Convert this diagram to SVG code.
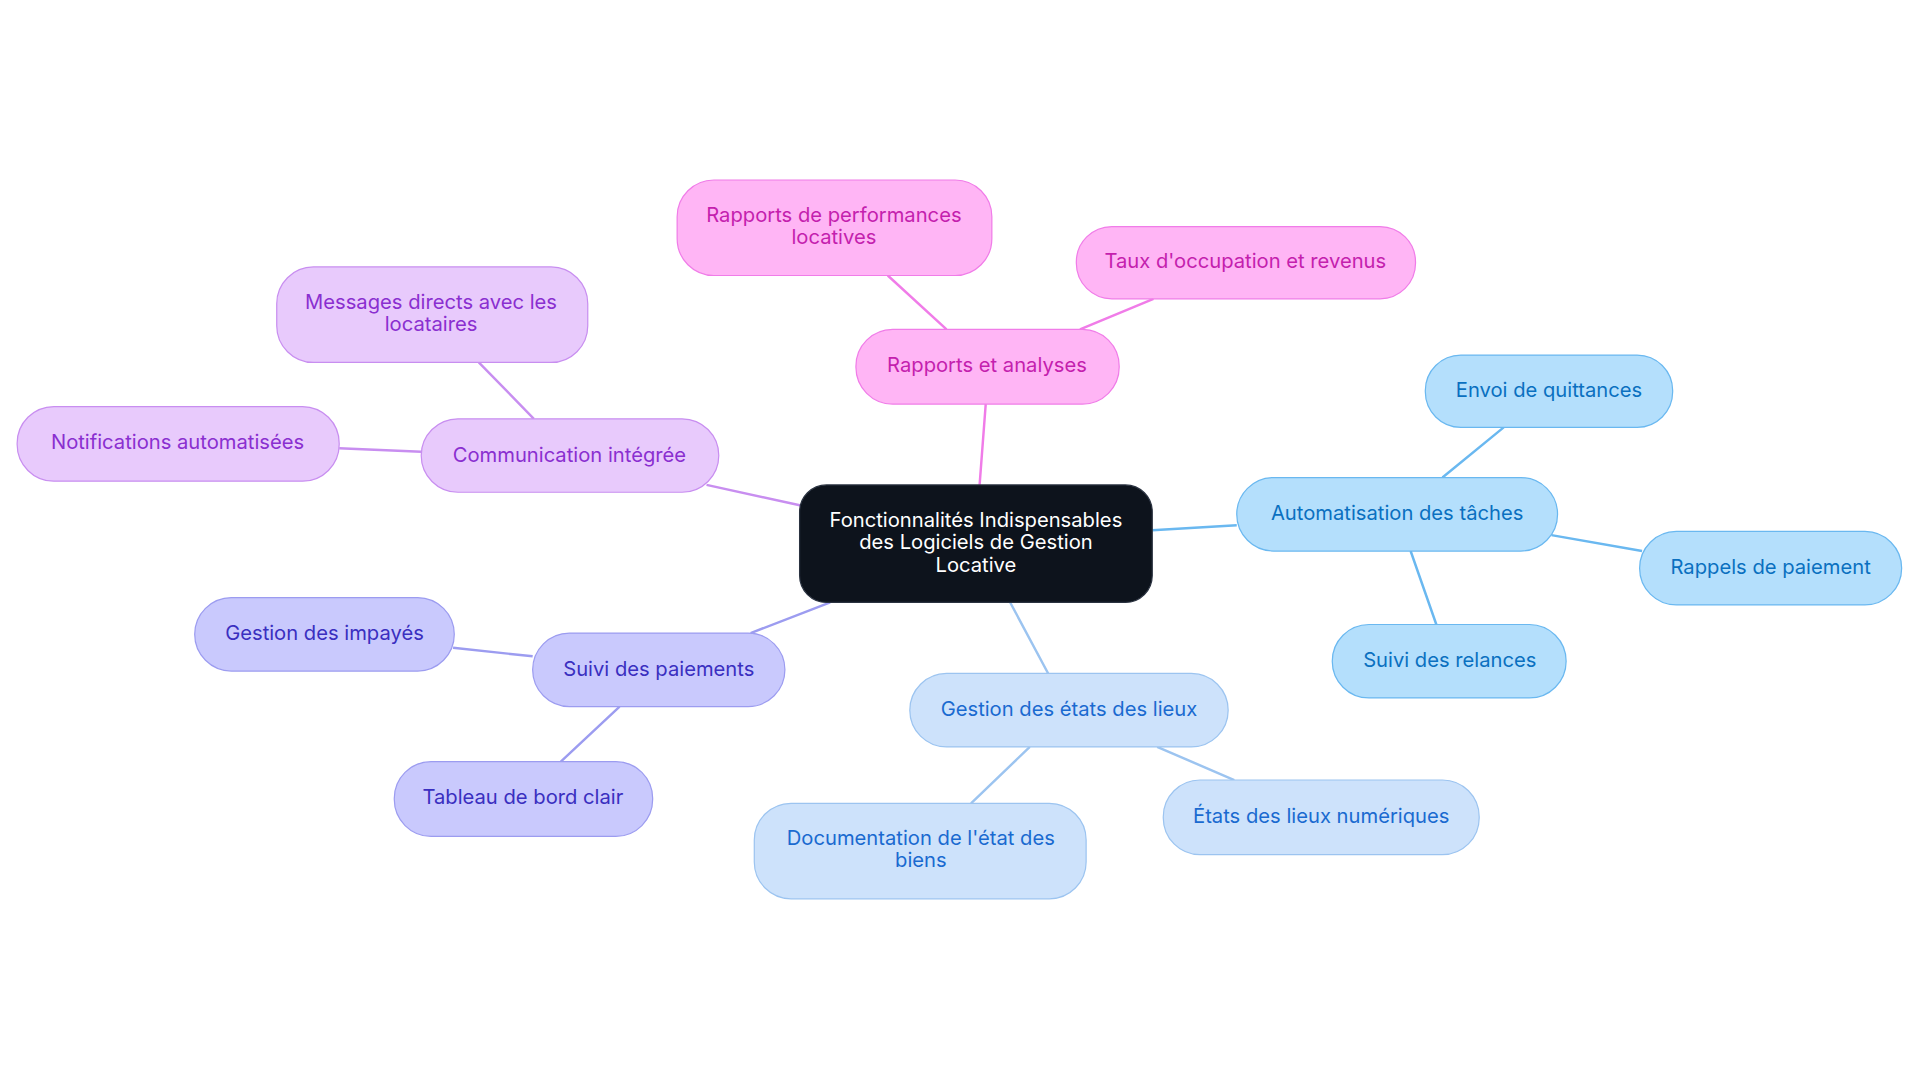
<svg xmlns="http://www.w3.org/2000/svg" width="1920" height="1083" viewBox="0 0 1920 1083">
<style>
text{font-family:Inter,"Noto Sans","Liberation Sans",sans-serif;font-size:16.5px;text-anchor:middle}
.e{fill:none;stroke-width:2}
.c rect{fill:#0d131c;stroke:#2a3240}.c text{fill:#fff}
.p rect{fill:#ffb5f5;stroke:#f07ce8}.p text{fill:#c41fae}
.v rect{fill:#e8cafc;stroke:#c88ef0}.v text{fill:#8a2fd0}
.i rect{fill:#c9c9fd;stroke:#9c9cf0}.i text{fill:#3a2fc0}
.l rect{fill:#cde2fb;stroke:#9cc4f0}.l text{fill:#1a6ad0}
.b rect{fill:#b4dffc;stroke:#6ab8f0}.b text{fill:#0a70c0}
</style>
<rect width="1920" height="1083" fill="#fff"/>
<g transform="scale(1.2245)">
<g id="connectors">
<path class="e" stroke="#f07ce8" d="M800 396L805 330M773 269L725 225M882 269L942 244"/>
<path class="e" stroke="#c88ef0" d="M655 413L577 396M436 342L391 296M344 369L277 366"/>
<path class="e" stroke="#9c9cf0" d="M678 492L613 517M435 536L370 529M506 577L458 622"/>
<path class="e" stroke="#9cc4f0" d="M825 492L856 550M841 610L793 656M945 610L1008 637"/>
<path class="e" stroke="#6ab8f0" d="M941 433L1010 429M1178 390L1228 349M1267 437L1341 450M1152 450L1173 510"/>
</g>
<g id="center" class="c"><rect x="653" y="396" width="288" height="96" rx="22"/><text x="797" y="430">Fonctionnalités Indispensables</text><text x="797" y="448">des Logiciels de Gestion</text><text x="797" y="467">Locative</text></g>
<g id="rapports" class="p"><rect x="699" y="269" width="215" height="61" rx="30"/><text x="806" y="304">Rapports et analyses</text></g>
<g id="perf" class="p"><rect x="553" y="147" width="257" height="78" rx="30"/><text x="681" y="181">Rapports de performances</text><text x="681" y="199">locatives</text></g>
<g id="taux" class="p"><rect x="879" y="185" width="277" height="59" rx="29"/><text x="1017" y="219">Taux d'occupation et revenus</text></g>
<g id="comm" class="v"><rect x="344" y="342" width="243" height="60" rx="30"/><text x="465" y="377">Communication intégrée</text></g>
<g id="messages" class="v"><rect x="226" y="218" width="254" height="78" rx="30"/><text x="352" y="252">Messages directs avec les</text><text x="352" y="270">locataires</text></g>
<g id="notif" class="v"><rect x="14" y="332" width="263" height="61" rx="30"/><text x="145" y="367">Notifications automatisées</text></g>
<g id="suivi" class="i"><rect x="435" y="517" width="206" height="60" rx="30"/><text x="538" y="552">Suivi des paiements</text></g>
<g id="impayes" class="i"><rect x="159" y="488" width="212" height="60" rx="30"/><text x="265" y="523">Gestion des impayés</text></g>
<g id="tableau" class="i"><rect x="322" y="622" width="211" height="61" rx="30"/><text x="427" y="657">Tableau de bord clair</text></g>
<g id="gestion" class="l"><rect x="743" y="550" width="260" height="60" rx="30"/><text x="873" y="585">Gestion des états des lieux</text></g>
<g id="doc" class="l"><rect x="616" y="656" width="271" height="78" rx="30"/><text x="752" y="690">Documentation de l'état des</text><text x="752" y="708">biens</text></g>
<g id="etats" class="l"><rect x="950" y="637" width="258" height="61" rx="30"/><text x="1079" y="672">États des lieux numériques</text></g>
<g id="auto" class="b"><rect x="1010" y="390" width="262" height="60" rx="30"/><text x="1141" y="425">Automatisation des tâches</text></g>
<g id="envoi" class="b"><rect x="1164" y="290" width="202" height="59" rx="29"/><text x="1265" y="324">Envoi de quittances</text></g>
<g id="rappels" class="b"><rect x="1339" y="434" width="214" height="60" rx="30"/><text x="1446" y="469">Rappels de paiement</text></g>
<g id="relances" class="b"><rect x="1088" y="510" width="191" height="60" rx="30"/><text x="1184" y="545">Suivi des relances</text></g>
</g>
</svg>
